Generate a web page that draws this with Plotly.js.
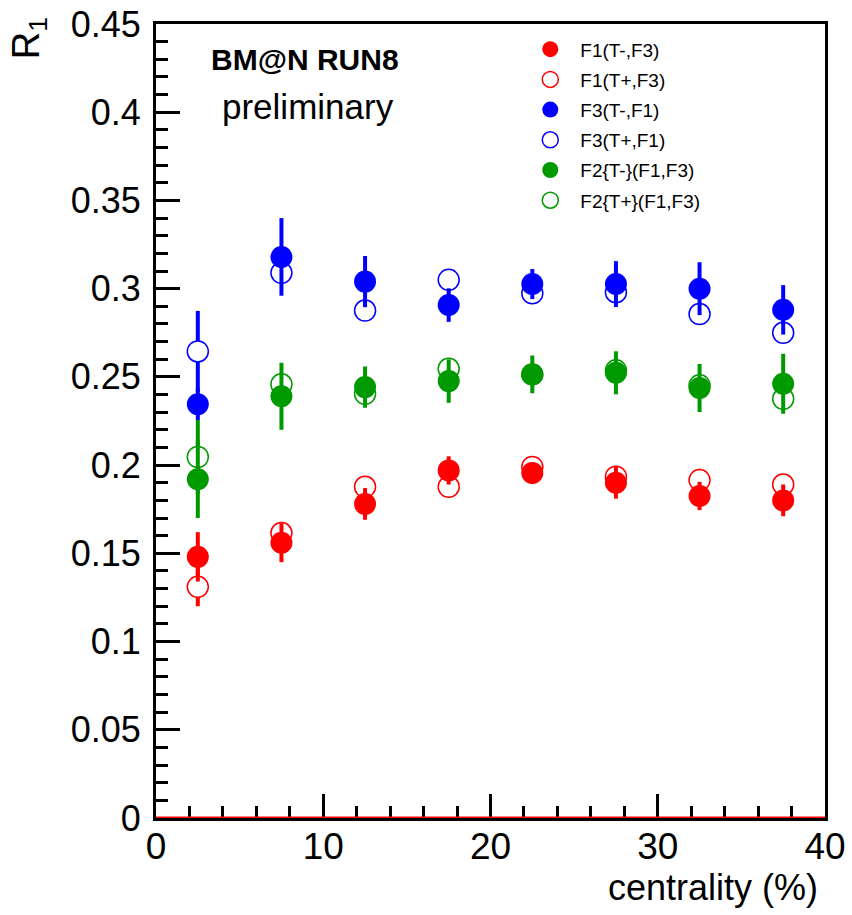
<!DOCTYPE html>
<html>
<head>
<meta charset="utf-8">
<script src="https://cdn.plot.ly/plotly-3.0.1.min.js"></script>
<style>
html,body{margin:0;padding:0;background:#fff;}
#chart{width:852px;height:915px;}
</style>
</head>
<body>
<div id="chart"></div>
<script>
// centrality bin centres (%)
var centrality = [2.5, 7.5, 12.5, 17.5, 22.5, 27.5, 32.5, 37.5];

// F1(T-,F3)
var f1TminusF3     = [0.148, 0.156, 0.178, 0.197, 0.1955, 0.190, 0.1825, 0.180];
var f1TminusF3Err  = [0.014, 0.011, 0.009, 0.008, 0.006, 0.009, 0.008, 0.009];
// F1(T+,F3)
var f1TplusF3      = [0.131, 0.1615, 0.1877, 0.1877, 0.199, 0.1934, 0.1915, 0.189];
var f1TplusF3Err   = [0.011, 0.005, 0.005, 0.005, 0.005, 0.005, 0.005, 0.005];
// F3(T-,F1)
var f3TminusF1     = [0.2345, 0.318, 0.304, 0.2907, 0.3026, 0.3026, 0.300, 0.288];
var f3TminusF1Err  = [0.009, 0.022, 0.0145, 0.0095, 0.0085, 0.013, 0.015, 0.014];
// F3(T+,F1)
var f3TplusF1      = [0.2644, 0.309, 0.2876, 0.305, 0.2974, 0.298, 0.2856, 0.275];
var f3TplusF1Err   = [0.023, 0.005, 0.005, 0.005, 0.005, 0.005, 0.005, 0.005];
// F2{T-}(F1,F3)
var f2TminusF1F3    = [0.192, 0.239, 0.2442, 0.2476, 0.2514, 0.2523, 0.2437, 0.2461];
var f2TminusF1F3Err = [0.022, 0.019, 0.0117, 0.0123, 0.0107, 0.0122, 0.0136, 0.017];
// F2{T+}(F1,F3)
var f2TplusF1F3     = [0.2046, 0.2458, 0.2404, 0.2546, 0.2514, 0.2537, 0.2452, 0.2376];
var f2TplusF1F3Err  = [0.021, 0.005, 0.005, 0.005, 0.005, 0.005, 0.005, 0.005];

var yTickVals  = [0, 0.05, 0.1, 0.15, 0.2, 0.25, 0.3, 0.35, 0.4, 0.45];
var yTickText  = ["0", "0.05", "0.1", "0.15", "0.2", "0.25", "0.3", "0.35", "0.4", "0.45"];
var xTickVals  = [0, 10, 20, 30, 40];
var xTickText  = ["0", "10", "20", "30", "40"];

var RED = "#ff0000", BLUE = "#0000ff", GREEN = "#009900";
var FONT = "Liberation Sans, Arial, Helvetica, sans-serif";

function openTrace(name, y, err, color, rank) {
  return {
    type: "scatter", mode: "markers", name: name, x: centrality, y: y,
    legendrank: rank, legendgroup: "g" + rank,
    error_y: {type: "data", array: err, visible: true, color: color, thickness: 4, width: 0},
    marker: {symbol: "circle", size: 21, color: "#ffffff", line: {color: color, width: 1.5}},
    cliponaxis: false
  };
}
function filledTrace(name, y, err, color, rank) {
  return {
    type: "scatter", mode: "markers", name: name, x: centrality, y: y,
    legendrank: rank, legendgroup: "g" + rank,
    error_y: {type: "data", array: err, visible: true, color: color, thickness: 4, width: 0},
    marker: {symbol: "circle", size: 22, color: color, line: {width: 0}},
    cliponaxis: false
  };
}

var data = [
  openTrace("F1(T+,F3)", f1TplusF3, f1TplusF3Err, RED, 2),
  openTrace("F3(T+,F1)", f3TplusF1, f3TplusF1Err, BLUE, 4),
  openTrace("F2{T+}(F1,F3)", f2TplusF1F3, f2TplusF1F3Err, GREEN, 6),
  filledTrace("F1(T-,F3)", f1TminusF3, f1TminusF3Err, RED, 1),
  filledTrace("F3(T-,F1)", f3TminusF1, f3TminusF1Err, BLUE, 3),
  filledTrace("F2{T-}(F1,F3)", f2TminusF1F3, f2TminusF1F3Err, GREEN, 5)
];

var layout = {
  width: 852, height: 915,
  margin: {l: 156, r: 27, t: 24, b: 97},
  paper_bgcolor: "#ffffff", plot_bgcolor: "#ffffff",
  font: {family: FONT, color: "#000000"},
  showlegend: true,
  legend: {
    x: 0.5445, y: 0.992, xanchor: "left", yanchor: "top",
    bgcolor: "rgba(255,255,255,0)", borderwidth: 0,
    font: {family: FONT, size: 19, color: "#000000"},
    itemwidth: 50, tracegroupgap: 2.5, traceorder: "grouped"
  },
  xaxis: {
    range: [0, 40], autorange: false,
    tickmode: "array", tickvals: xTickVals, ticktext: xTickText,
    ticks: "inside", ticklen: 24, tickwidth: 3, tickcolor: "#000",
    minor: {dtick: 2, ticks: "inside", ticklen: 12, tickwidth: 3, tickcolor: "#000", showgrid: false},
    showline: true, linewidth: 3, linecolor: "#000", mirror: true,
    showgrid: false, zeroline: false,
    tickfont: {family: FONT, size: 37, color: "#000"},
    ticklabelstandoff: -6
  },
  yaxis: {
    range: [0, 0.45], autorange: false,
    tickmode: "array", tickvals: yTickVals, ticktext: yTickText,
    ticks: "inside", ticklen: 24, tickwidth: 3, tickcolor: "#000",
    minor: {dtick: 0.01, ticks: "inside", ticklen: 12, tickwidth: 3, tickcolor: "#000", showgrid: false},
    showline: true, linewidth: 3, linecolor: "#000", mirror: true,
    showgrid: false, zeroline: false,
    tickfont: {family: FONT, size: 36, color: "#000"},
    ticklabelstandoff: 5
  },
  shapes: [{
    type: "line", xref: "paper", yref: "y", x0: 0, x1: 1, y0: 0, y1: 0,
    line: {color: RED, width: 3}, layer: "above"
  }],
  annotations: [
    {text: "R<sub>1</sub>", textangle: -90, xref: "paper", yref: "paper",
     x: -0.19, y: 0.982, xanchor: "center", yanchor: "middle", showarrow: false,
     font: {family: FONT, size: 38, color: "#000"}},
    {text: "centrality (%)", xref: "paper", yref: "paper",
     x: 0.9925, y: -0.088, xanchor: "right", yanchor: "middle", showarrow: false,
     font: {family: FONT, size: 36, color: "#000"}},
    {text: "<b>BM@N RUN8</b>", xref: "paper", yref: "paper",
     x: 0.2227, y: 0.9547, xanchor: "center", yanchor: "middle", showarrow: false,
     font: {family: FONT, size: 30, color: "#000"}},
    {text: "preliminary", xref: "paper", yref: "paper",
     x: 0.227, y: 0.8955, xanchor: "center", yanchor: "middle", showarrow: false,
     font: {family: FONT, size: 35, color: "#000"}}
  ]
};

Plotly.newPlot("chart", data, layout, {displayModeBar: false, staticPlot: true});
</script>
</body>
</html>
